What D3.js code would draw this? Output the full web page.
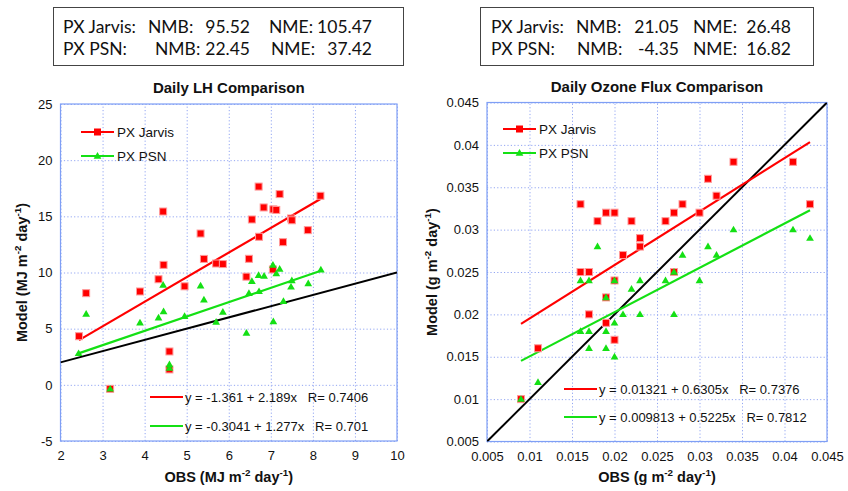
<!DOCTYPE html>
<html><head><meta charset="utf-8">
<script src="https://cdn.jsdelivr.net/npm/d3@7"></script>
<style>body{margin:0;background:#fff}svg{display:block}</style>
</head><body>
<svg id="c" width="848" height="491"></svg>
<script>
// ---------- DATA ----------
const lhJarvisObs = [2.44,2.61,3.18,3.89,4.33,4.44,4.45,4.59,4.59,4.95,5.33,5.41,5.70,5.86,6.42,6.48,6.55,6.71,6.72,6.83,7.05,7.06,7.13,7.21,7.29,7.48,7.50,7.88,8.18];
const lhJarvis    = [4.33,8.16,-0.36,8.31,9.40,15.43,10.68,2.97,1.37,8.77,13.47,11.21,10.80,10.75,9.63,11.22,14.72,17.65,13.18,15.79,10.27,15.62,15.57,16.98,12.70,14.81,14.65,13.77,16.83];
const lhPsnObs    = [2.43,2.61,3.18,3.89,4.33,4.44,4.45,4.59,4.59,4.95,5.33,5.41,5.70,5.86,6.42,6.48,6.55,6.71,6.72,6.84,7.05,7.06,7.13,7.21,7.30,7.48,7.50,7.89,8.19];
const lhPsn       = [2.80,6.30,-0.36,5.52,5.97,8.88,6.53,1.81,1.50,6.11,8.82,7.57,5.60,6.48,4.62,8.16,9.22,9.75,8.32,9.68,10.67,5.64,9.90,10.31,7.45,8.72,9.29,9.02,10.25];

const ozJarvisObs = [0.009,0.011,0.016,0.016,0.017,0.017,0.018,0.019,0.019,0.019,0.020,0.020,0.020,0.021,0.022,0.023,0.023,0.026,0.027,0.027,0.028,0.030,0.031,0.032,0.034,0.041,0.043];
const ozJarvis    = [0.010,0.016,0.033,0.025,0.025,0.020,0.031,0.032,0.022,0.019,0.032,0.024,0.017,0.027,0.031,0.029,0.028,0.031,0.032,0.025,0.033,0.032,0.036,0.034,0.038,0.038,0.033];
const ozPsnObs    = [0.009,0.011,0.016,0.016,0.017,0.017,0.017,0.018,0.019,0.019,0.019,0.020,0.020,0.020,0.021,0.022,0.023,0.023,0.026,0.027,0.027,0.028,0.030,0.031,0.032,0.034,0.041,0.043];
const ozPsn       = [0.010,0.012,0.024,0.018,0.024,0.018,0.016,0.028,0.022,0.018,0.016,0.024,0.019,0.015,0.020,0.023,0.024,0.020,0.024,0.025,0.020,0.027,0.024,0.028,0.027,0.030,0.030,0.029];

// regression coefficients [intercept, slope] and R
const lhFitJarvis = [-1.361, 2.189], lhRJarvis = "0.7406";
const lhFitPsn    = [-0.3041, 1.277], lhRPsn = "0.701";
const ozFitJarvis = [0.01321, 0.6305], ozRJarvis = "0.7376";
const ozFitPsn    = [0.009813, 0.5225], ozRPsn = "0.7812";

const lhXTicks = [2,3,4,5,6,7,8,9,10];
const lhYTicks = [-5,0,5,10,15,20,25];
const ozTicks  = [0.005,0.01,0.015,0.02,0.025,0.03,0.035,0.04,0.045];

const statsLH = [["PX Jarvis:","NMB:","95.52","NME:","105.47"],["PX PSN:","NMB:","22.45","NME:","37.42"]];
const statsOZ = [["PX Jarvis:","NMB:","21.05","NME:","26.48"],["PX PSN:","NMB:","-4.35","NME:","16.82"]];
const seriesNames = ["PX Jarvis","PX PSN"];

// ---------- DRAW ----------
const svg = d3.select("#c");
const RED = "#ff0000", GREEN = "#14e014", FRAME = "#7f9ff5", GRID = "#93a6f2";
const FONT = "Liberation Sans, Arial, sans-serif";

function statsBox(x0, y0, w, h, rows, cols) {
  const g = svg.append("g");
  g.append("rect").attr("x", x0).attr("y", y0).attr("width", w).attr("height", h)
    .attr("fill", "none").attr("stroke", "#444").attr("stroke-width", 1);
  rows.forEach((r, i) => {
    const y = y0 + 25 + i * 22;
    r.forEach((t, j) => {
      g.append("text").attr("x", cols[i][j]).attr("y", y)
        .attr("text-anchor", (j === 2 || j === 4) ? "end" : "start")
        .attr("font-family", "Lato, 'Open Sans', sans-serif").attr("font-size", 17.5)
        .attr("fill", "#111").text(t);
    });
  });
}
statsBox(53.5, 7.5, 350, 58, statsLH, [[63,148,250,269,372],[63,155,250,271,372]]);
statsBox(480.5, 7.5, 333, 58, statsOZ, [[491,576,679,693,791],[491,577,679,693,791]]);

function label(g, x, y, main, unit, rotate, size) {
  const t = g.append("text").attr("font-family", FONT).attr("font-weight", "bold")
    .attr("font-size", size).attr("text-anchor", "middle").attr("fill", "#111")
    .attr("transform", `translate(${x},${y})` + (rotate ? " rotate(-90)" : ""));
  t.append("tspan").text(main + " (" + unit + " m");
  t.append("tspan").attr("dy", -6).attr("font-size", size * 0.68).text("-2");
  t.append("tspan").attr("dy", 6).text(" day");
  t.append("tspan").attr("dy", -6).attr("font-size", size * 0.68).text("-1");
  t.append("tspan").attr("dy", 6).text(")");
}

function panel(o) {
  const g = svg.append("g");
  const x = d3.scaleLinear().domain(o.xDomain).range([o.left, o.right]);
  const y = d3.scaleLinear().domain(o.yDomain).range([o.bottom, o.top]);

  // grid
  const gx = d3.axisBottom(x).tickValues(o.xTicks).tickSize(-(o.bottom - o.top)).tickFormat("");
  const gy = d3.axisLeft(y).tickValues(o.yTicks).tickSize(-(o.right - o.left)).tickFormat("");
  [g.append("g").attr("transform", `translate(0,${o.bottom})`).call(gx),
   g.append("g").attr("transform", `translate(${o.left},0)`).call(gy)].forEach(s => {
    s.select(".domain").remove();
    s.selectAll("line").attr("stroke", GRID).attr("stroke-width", 1).attr("stroke-dasharray", "1.2,2.2");
  });

  // frame
  g.append("rect").attr("x", o.left).attr("y", o.top).attr("width", o.right - o.left)
    .attr("height", o.bottom - o.top).attr("fill", "none").attr("stroke", FRAME).attr("stroke-width", 1.2);

  // tick labels via axes
  const ax = d3.axisBottom(x).tickValues(o.xTicks).tickSize(0).tickPadding(10).tickFormat(o.fmt);
  const ay = d3.axisLeft(y).tickValues(o.yTicks).tickSize(0).tickPadding(8).tickFormat(o.fmt);
  [g.append("g").attr("transform", `translate(0,${o.bottom})`).call(ax),
   g.append("g").attr("transform", `translate(${o.left},0)`).call(ay)].forEach(s => {
    s.select(".domain").remove();
    s.selectAll("text").attr("font-family", FONT).attr("font-size", 13).attr("fill", "#111");
  });

  // title
  g.append("text").attr("x", (o.left + o.right) / 2).attr("y", o.top - 11)
    .attr("text-anchor", "middle").attr("font-family", FONT).attr("font-weight", "bold")
    .attr("font-size", 15).attr("fill", "#111").text(o.title);
  label(g, (o.left + o.right) / 2, 482, "OBS", o.unit, false, 14.5);
  label(g, o.yLabelX, (o.top + o.bottom) / 2, "Model", o.unit, true, 14.5);

  const clip = "clip" + o.id;
  g.append("clipPath").attr("id", clip).append("rect").attr("x", o.left).attr("y", o.top)
    .attr("width", o.right - o.left).attr("height", o.bottom - o.top);
  const pl = g.append("g").attr("clip-path", `url(#${clip})`);

  // 1:1 line
  const d0 = Math.max(o.xDomain[0], o.yDomain[0]), d1 = Math.min(o.xDomain[1], o.yDomain[1]);
  pl.append("line").attr("x1", x(d0)).attr("y1", y(d0)).attr("x2", x(d1)).attr("y2", y(d1))
    .attr("stroke", "#000").attr("stroke-width", 2);

  // fit lines
  function fitLine(xs, fit, col) {
    const e = d3.extent(xs);
    pl.append("line").attr("x1", x(e[0])).attr("y1", y(fit[0] + fit[1] * e[0]))
      .attr("x2", x(e[1])).attr("y2", y(fit[0] + fit[1] * e[1]))
      .attr("stroke", col).attr("stroke-width", 2.2);
  }
  fitLine(o.jx, o.jfit, RED);
  fitLine(o.px, o.pfit, GREEN);

  const tri = d3.symbol().type(d3.symbolTriangle).size(26);
  // points
  pl.selectAll(".sq").data(o.jx.map((v, i) => [v, o.jy[i]])).join("rect")
    .attr("x", d => x(d[0]) - 3.5).attr("y", d => y(d[1]) - 3.5).attr("width", 7).attr("height", 7)
    .attr("fill", RED).attr("stroke", "#ff9a9a").attr("stroke-width", 1);
  pl.selectAll(".tr").data(o.px.map((v, i) => [v, o.py[i]])).join("path")
    .attr("d", tri).attr("transform", d => `translate(${x(d[0])},${y(d[1]) + 0.5})`)
    .attr("fill", GREEN);

  // series legend
  seriesNames.forEach((n, i) => {
    const ly = o.legY + i * 24, lx = o.legX;
    g.append("line").attr("x1", lx).attr("x2", lx + 33).attr("y1", ly).attr("y2", ly)
      .attr("stroke", i ? GREEN : RED).attr("stroke-width", 2);
    if (i === 0) g.append("rect").attr("x", lx + 13).attr("y", ly - 3.5).attr("width", 7).attr("height", 7).attr("fill", RED);
    else g.append("path").attr("d", tri).attr("transform", `translate(${lx + 16.5},${ly + 0.5})`).attr("fill", GREEN);
    g.append("text").attr("x", lx + 36).attr("y", ly + 5).attr("font-family", FONT)
      .attr("font-size", 13.5).attr("fill", "#111").text(n);
  });

  // equation legend
  const eqs = [[o.jfit, o.jr, RED], [o.pfit, o.pr, GREEN]];
  eqs.forEach((e, i) => {
    const ly = o.eqY[i], lx = o.eqX;
    g.append("line").attr("x1", lx).attr("x2", lx + 33).attr("y1", ly).attr("y2", ly)
      .attr("stroke", e[2]).attr("stroke-width", 2);
    const sign = e[0][0] < 0 ? "-" : "";
    g.append("text").attr("x", lx + 35).attr("y", ly + 5).attr("font-family", FONT)
      .attr("font-size", 13).attr("fill", "#111").attr("xml:space", "preserve")
      .text(`y = ${sign}${o.eqFmt[i][0]} + ${o.eqFmt[i][1]}x   R= ${e[1]}`);
  });
}

panel({
  id: "lh", left: 60.5, right: 397, top: 104, bottom: 441,
  xDomain: [2, 10], yDomain: [-5, 25], xTicks: lhXTicks, yTicks: lhYTicks,
  fmt: d => String(d), title: "Daily LH Comparison", unit: "MJ", yLabelX: 27,
  jx: lhJarvisObs, jy: lhJarvis, px: lhPsnObs, py: lhPsn,
  jfit: lhFitJarvis, pfit: lhFitPsn, jr: lhRJarvis, pr: lhRPsn,
  eqFmt: [["1.361", "2.189"], ["0.3041", "1.277"]],
  legX: 81, legY: 132, eqX: 150, eqY: [397, 426]
});
panel({
  id: "oz", left: 487, right: 827, top: 102.5, bottom: 441.5,
  xDomain: [0.005, 0.045], yDomain: [0.005, 0.045], xTicks: ozTicks, yTicks: ozTicks,
  fmt: d => String(+d.toFixed(3)), title: "Daily Ozone Flux Comparison", unit: "g", yLabelX: 437,
  jx: ozJarvisObs, jy: ozJarvis, px: ozPsnObs, py: ozPsn,
  jfit: ozFitJarvis, pfit: ozFitPsn, jr: ozRJarvis, pr: ozRPsn,
  eqFmt: [["0.01321", "0.6305"], ["0.009813", "0.5225"]],
  legX: 503, legY: 129, eqX: 564, eqY: [389, 417]
});
</script>
</body></html>
